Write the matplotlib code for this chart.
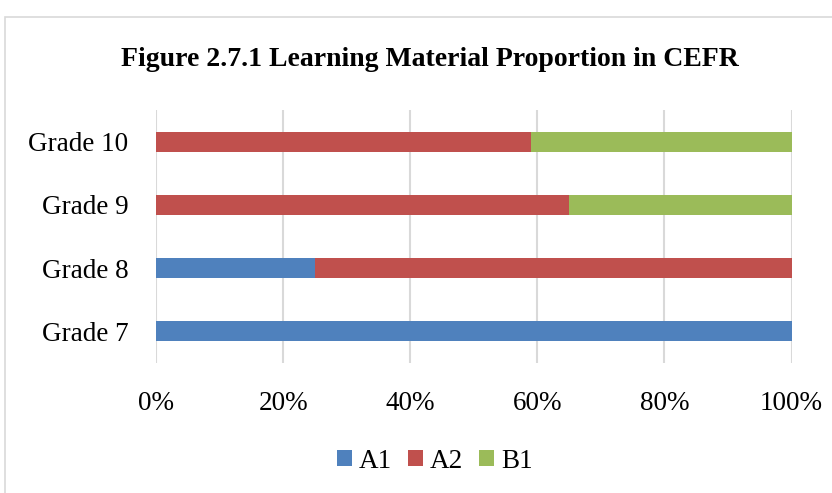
import matplotlib
matplotlib.use("Agg")
import matplotlib.pyplot as plt
from matplotlib.patches import Rectangle
import numpy as np

grades = ["Grade 7", "Grade 8", "Grade 9", "Grade 10"]
a1 = [100, 25, 0, 0]
a2 = [0, 75, 65, 59]
b1 = [0, 0, 35, 41]
series = [("A1", a1, "#4F81BD"), ("A2", a2, "#C0504D"), ("B1", b1, "#9BBB59")]
xticks = [0, 20, 40, 60, 80, 100]

plt.rcParams['font.family'] = ['Liberation Serif', 'DejaVu Serif']

fig = plt.figure(figsize=(8.32, 4.93), dpi=100)
fig.patches.append(Rectangle((5/832, -0.01), 1.0, 1 - 17/493 + 0.01, transform=fig.transFigure,
                             fill=False, edgecolor="#D9D9D9", linewidth=1.2))
ax = fig.add_axes([156/832, 1 - 363/493, (791.5-156)/832, (363-110)/493])

y = np.arange(len(grades))
left = np.zeros(len(grades))
for name, vals, col in series:
    ax.barh(y, vals, left=left, height=0.32, color=col, label=name, zorder=3)
    left += np.array(vals)

ax.set_xlim(0, 100)
ax.set_ylim(-0.5, len(grades) - 0.5)
ax.set_yticks(y)
ax.set_yticklabels(grades, fontsize=19.5)
ax.set_xticks(xticks)
ax.set_xticklabels([f"{v}%" for v in xticks], fontsize=19.5)
ax.tick_params(axis='both', length=0)
ax.tick_params(axis='y', pad=20)
ax.tick_params(axis='x', pad=20)
ax.grid(axis='x', color="#D9D9D9", linewidth=1.5, zorder=0)
for s in ax.spines.values():
    s.set_visible(False)

fig.text(430/832, 1 - 60/493, "Figure 2.7.1 Learning Material Proportion in CEFR",
         ha='center', va='center', fontsize=20, fontweight='bold')

fig.legend(loc='center', bbox_to_anchor=(435/832, 1 - 461/493), ncol=3, frameon=False,
           fontsize=19.5, handlelength=0.55, handleheight=0.55, handletextpad=0.25, columnspacing=0.6)

fig.savefig("out.png", dpi=100)
